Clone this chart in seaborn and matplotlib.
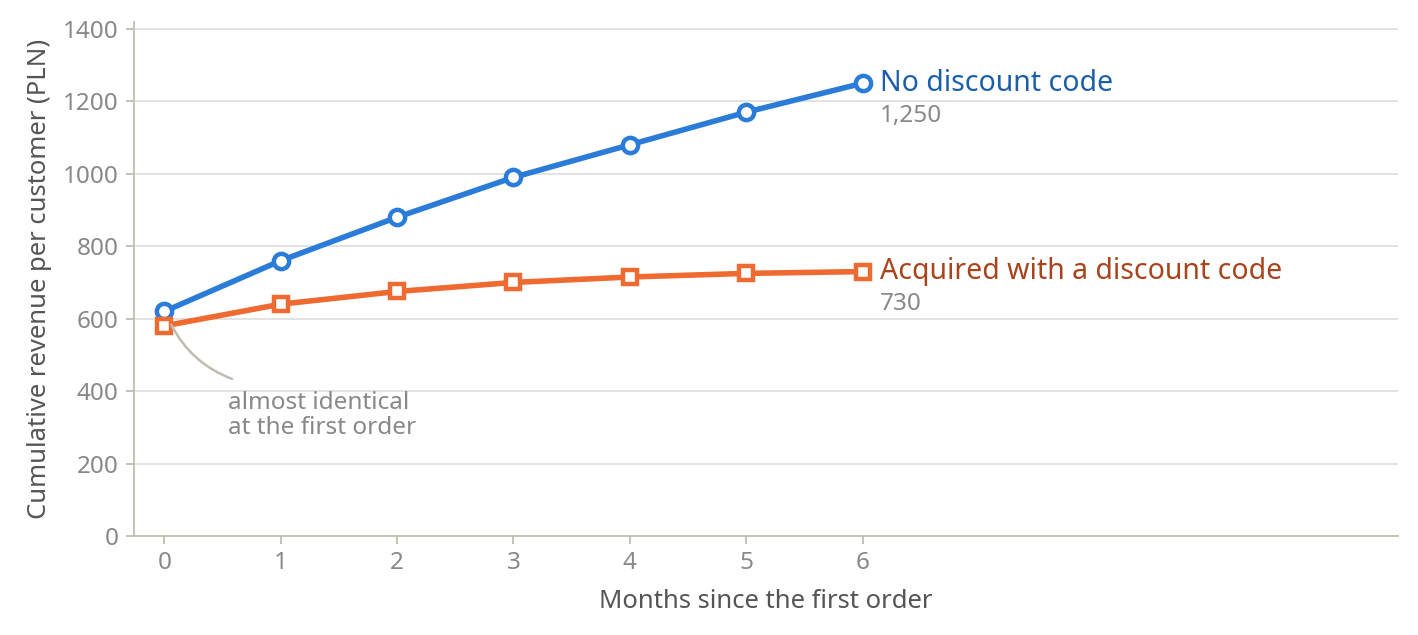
import matplotlib
matplotlib.use("Agg")
import matplotlib.pyplot as plt
import seaborn as sns
import pandas as pd

months = [0, 1, 2, 3, 4, 5, 6]
no_code = [620, 760, 880, 990, 1080, 1170, 1250]
with_code = [580, 640, 675, 700, 715, 725, 730]
yticks = [0, 200, 400, 600, 800, 1000, 1200, 1400]

sns.set_theme(style="white")
plt.rcParams['font.family'] = ['Noto Sans', 'DejaVu Sans']

fig = plt.figure(figsize=(14.18, 6.35), dpi=100)
ax = fig.add_axes([134/1418, 1-536/635, (1398-134)/1418, (536-22)/635])

df = pd.DataFrame({"m": months * 2, "v": no_code + with_code,
                   "s": ["No discount code"] * 7 + ["Acquired with a discount code"] * 7})
blue, orange = "#2b7bd9", "#ee6a30"
sns.lineplot(data=df[df.s == "No discount code"], x="m", y="v", ax=ax, color=blue, lw=4,
             marker="o", markersize=11, markerfacecolor="white", markeredgecolor=blue, markeredgewidth=3.2)
sns.lineplot(data=df[df.s != "No discount code"], x="m", y="v", ax=ax, color=orange, lw=4,
             marker="s", markersize=10, markerfacecolor="white", markeredgecolor=orange, markeredgewidth=3.2)

ax.set_xlim(-0.26, 10.6)
ax.set_ylim(0, 1419)
ax.set_xticks(months)
ax.set_yticks(yticks)
ax.grid(axis="y", color="#dddddd", lw=1.2)
ax.set_axisbelow(True)
for s in ["top", "right"]:
    ax.spines[s].set_visible(False)
for s in ["left", "bottom"]:
    ax.spines[s].set_color("#c0bdb0")
    ax.spines[s].set_linewidth(1.3)
ax.tick_params(axis="both", colors="#c0bdb0", labelcolor="#888888", labelsize=17.5, length=6, width=1.3,
               left=True, bottom=True, pad=5)
ax.set_xlabel("Months since the first order", fontsize=18.5, color="#555555", labelpad=10)
ax.set_ylabel("Cumulative revenue per customer (PLN)", fontsize=18.5, color="#555555", labelpad=8)

ax.text(6.15, no_code[-1], "No discount code", color="#1a5fa8", fontsize=20.5, va="center")
ax.text(6.15, no_code[-1] - 90, f"{no_code[-1]:,}", color="#888888", fontsize=17.5, va="center")
ax.text(6.15, with_code[-1], "Acquired with a discount code", color="#a8431c", fontsize=20.5, va="center")
ax.text(6.15, with_code[-1] - 90, f"{with_code[-1]:,}", color="#888888", fontsize=17.5, va="center")
ax.annotate("almost identical\nat the first order", xy=(0.05, 590), xytext=(0.55, 400),
            fontsize=17.5, color="#888888", va="top", ha="left", linespacing=1.05,
            arrowprops=dict(arrowstyle="-", color="#c0bdb0", lw=1.8,
                            connectionstyle="arc3,rad=-0.2", shrinkA=0, shrinkB=2,
                            relpos=(0.02, 1.25)))
fig.savefig("out.png", dpi=100)
